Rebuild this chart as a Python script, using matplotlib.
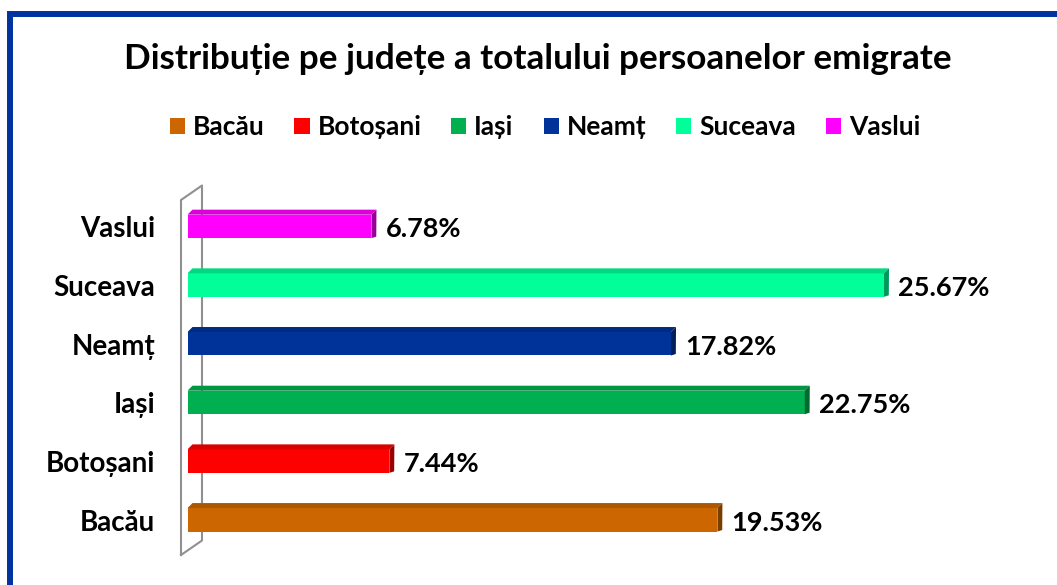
import matplotlib
matplotlib.use('Agg')
import matplotlib.pyplot as plt
from matplotlib.patches import Polygon, Patch, Rectangle
from matplotlib.lines import Line2D
import matplotlib.colors as mcolors

plt.rcParams['font.family'] = ['Lato', 'DejaVu Sans']

# date
judete = ['Bacău', 'Botoșani', 'Iași', 'Neamț', 'Suceava', 'Vaslui']
procente = [19.53, 7.44, 22.75, 17.82, 25.67, 6.78]
culori = ['#CC6600', '#FF0000', '#00B050', '#003399', '#00FF99', '#FF00FF']
titlu = 'Distribuție pe județe a totalului persoanelor emigrate'

W, H, DPI = 1057, 585, 100


def darker(c, f=0.7):
    r, g, b = mcolors.to_rgb(c)
    return (r * f, g * f, b * f)


def main():
    fig = plt.figure(figsize=(W / DPI, H / DPI), dpi=DPI)
    # zona graficului, in pixeli
    left, right, bottom, top = 187.5, 1001.5, 585 - 555, 585 - 200
    ax = fig.add_axes([left / W, bottom / H, (right - left) / W, (top - bottom) / H])
    ax.set_xlim(0, 30)
    ax.set_ylim(-0.6, 5.45)
    ax.axis('off')

    # conversie pixeli -> unitati de date
    px_x = 30 / (right - left)
    px_y = 6.05 / (top - bottom)

    h = 0.4
    dx, dy = 5 * px_x, 5 * px_y
    sx = 6 * px_x
    for i, (v, c) in enumerate(zip(procente, culori)):
        ax.barh(i, v, height=h, color=c, zorder=3)
        yt = i + h / 2
        yb = i - h / 2
        # fata de sus
        ax.add_patch(Polygon([(0, yt), (v, yt), (v + dx, yt + dy), (dx, yt + dy)],
                             closed=True, facecolor=darker(c, 0.85), edgecolor='none', zorder=3))
        # fata laterala
        ax.add_patch(Polygon([(v, yb), (v, yt), (v + dx, yt + dy), (v + sx * 0.8, yb + dy * 0.3)],
                             closed=True, facecolor=darker(c, 0.6), edgecolor='none', zorder=3))
        ax.text(v + sx + 8 * px_x, i - 0.05, f'{v:.2f}%', va='center', ha='left',
                fontsize=19.5, fontweight='bold', color='black')
        ax.text(-32 * px_x, i - 0.05, judete[i], va='center', ha='right',
                fontsize=20, fontweight='bold', color='black')

    # peretele din stanga
    wx0, wx1 = -6.5 * px_x, 14.5 * px_x
    y0, y1 = -0.6, 5.45
    wdy = 14.5 * px_y
    wall = [(wx0, y0), (wx0, y1), (wx1, y1 + wdy), (wx1, y0 + wdy), (wx0, y0)]
    ax.add_line(Line2D([p[0] for p in wall], [p[1] for p in wall], color='#909090',
                       lw=1.5, clip_on=False, zorder=2))

    # titlu si legenda
    fig.text(538 / W, 1 - 59 / H, titlu, ha='center', va='center',
             fontsize=25.3, fontweight='bold')
    handles = [Patch(facecolor=c, edgecolor='none') for c in culori]
    fig.legend(handles, judete, loc='center', bbox_to_anchor=(545 / W, 1 - 127 / H),
               ncol=6, frameon=False, handlelength=0.57, handleheight=0.57,
               handletextpad=0.3, columnspacing=1.14, borderpad=0, borderaxespad=0,
               prop={'weight': 'bold', 'size': 19})

    # chenar albastru
    fig.add_artist(Rectangle((10 / W, -0.1), 1.2, 1.1 - 14 / H, transform=fig.transFigure,
                             fill=False, edgecolor='#0033A0', lw=4.3))

    fig.savefig('out.png', dpi=DPI)
    plt.close(fig)


if __name__ == '__main__':
    main()
